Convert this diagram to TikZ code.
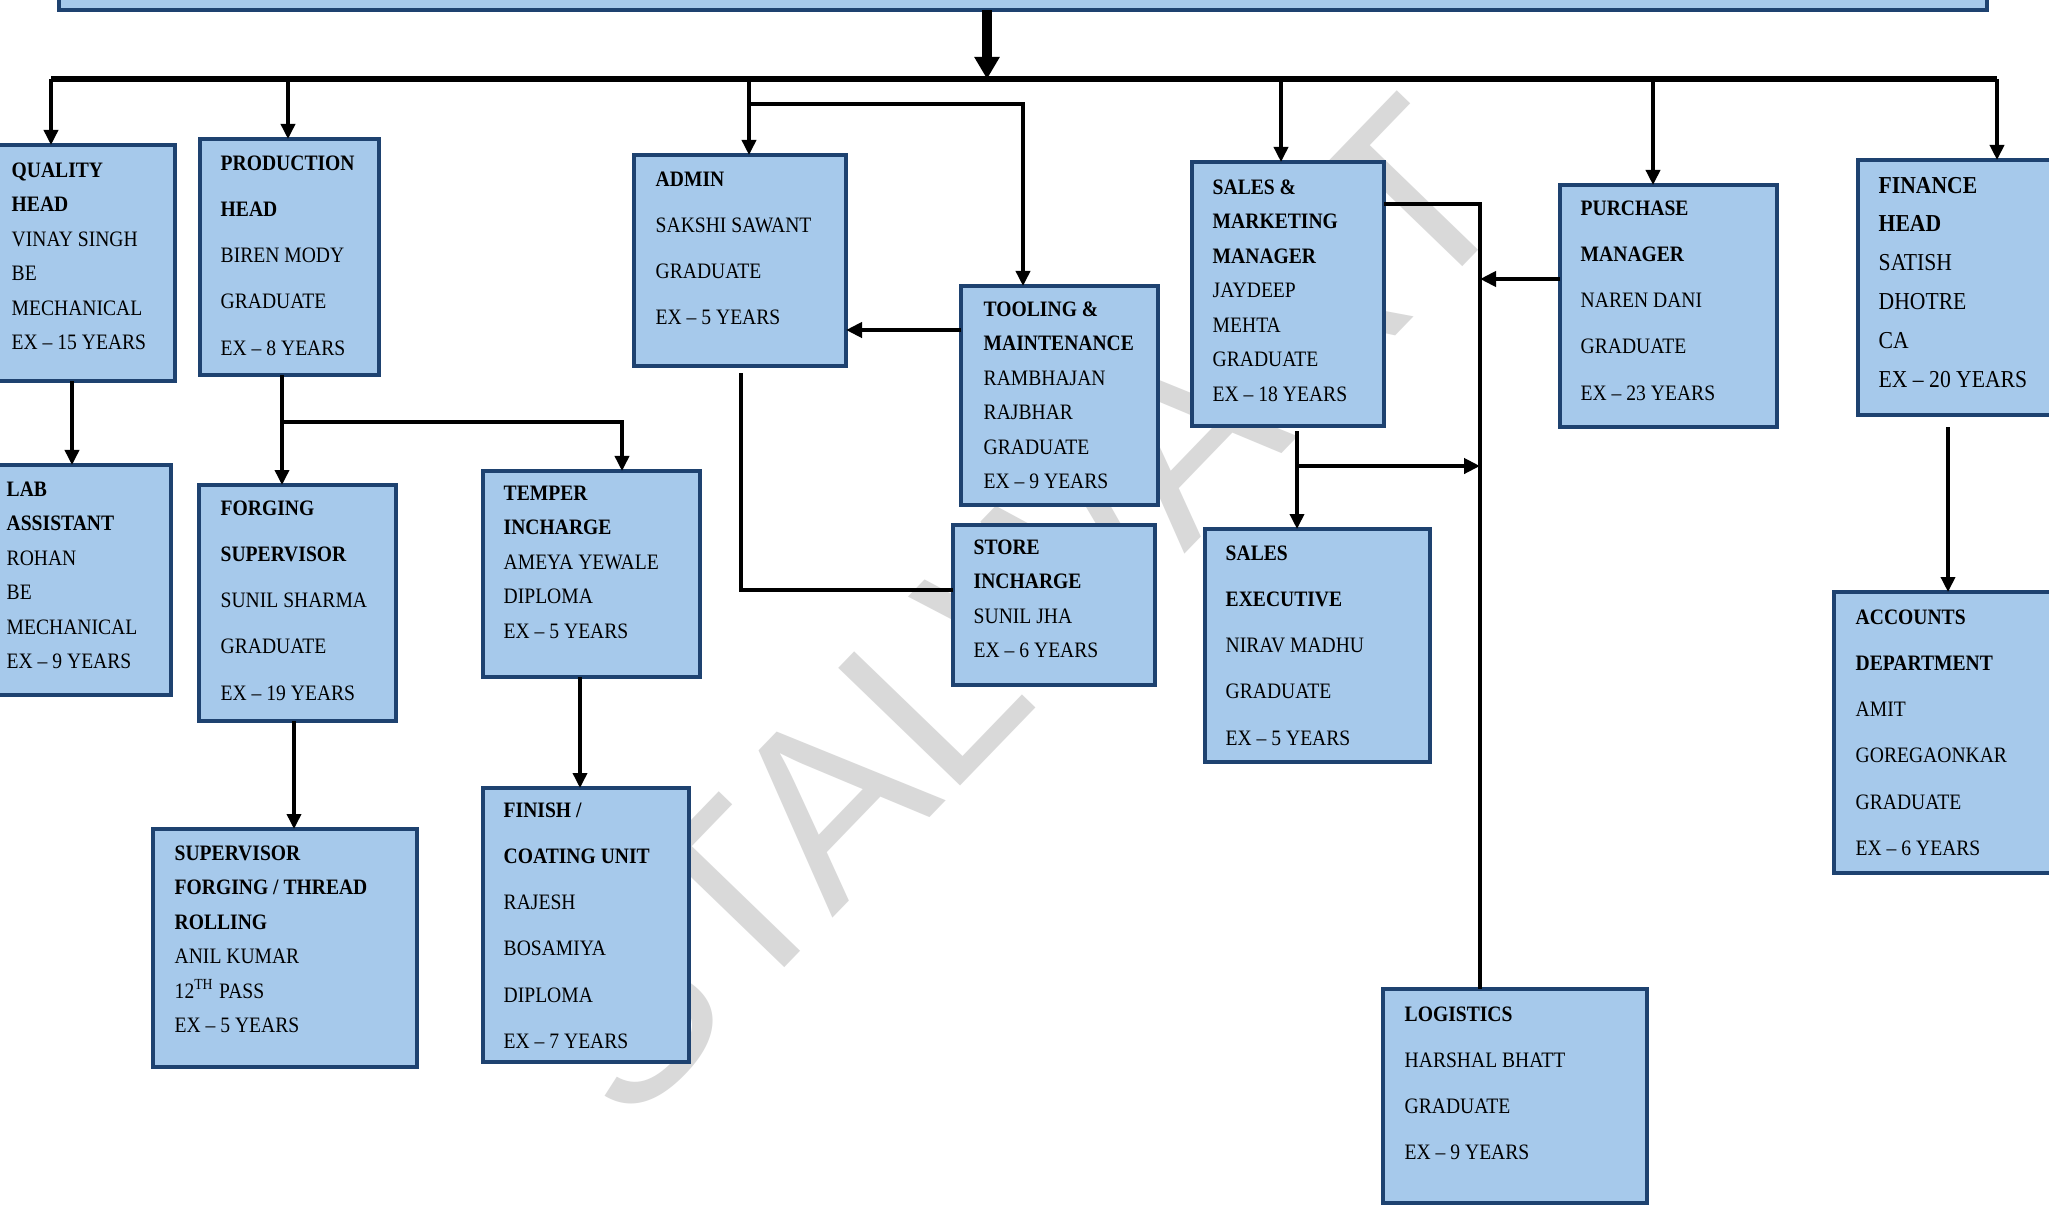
\documentclass[tikz,border=0pt]{standalone}
\usepackage{fontspec}
\setmainfont{Liberation Serif}[FakeStretch=0.89]
\newfontfamily\wmfont{Liberation Sans}
\usetikzlibrary{arrows.meta,calc}
\definecolor{boxfill}{RGB}{166,201,235}
\definecolor{boxline}{RGB}{30,66,112}
\definecolor{wmgray}{RGB}{217,217,217}
\tikzset{
  box/.style 2 args={draw=boxline, fill=boxfill, line width=1pt, minimum width=#1*0.01cm, minimum height=#2*0.01cm, anchor=north west, inner sep=0pt, outer sep=0pt},
  txtA/.style={anchor=base west, inner sep=0pt, font=\fontsize{6.26pt}{9.82pt}\selectfont},
  txtB/.style={anchor=base west, inner sep=0pt, font=\fontsize{6.26pt}{13.17pt}\selectfont},
  txtF/.style={anchor=base west, inner sep=0pt, font=\fontsize{6.91pt}{11.04pt}\selectfont},
  conn/.style={line width=1pt, draw=black},
  arr/.style={conn, -{Triangle[length=0.15cm,width=0.14cm]}},
  tharr/.style={line width=1.3pt, draw=black, -{Triangle[length=0.16cm,width=0.15cm]}},
  bus/.style={line width=1.5pt, draw=black},
  mainarr/.style={line width=2.8pt, draw=black, -{Triangle[length=0.22cm,width=0.24cm]}},
  wm/.style={text=wmgray, font=\wmfont\fontsize{70pt}{72pt}\selectfont, anchor=base, rotate=46, inner sep=0pt}
}
\newcommand{\lines}[1]{\begin{tabular}[t]{@{}l@{}}#1\end{tabular}}
\begin{document}
\begin{tikzpicture}[x=0.01cm, y=-0.01cm]
\useasboundingbox (0,0) rectangle (2049,1209);
\clip (0,0) rectangle (2049,1209);
\fill[white] (0,0) rectangle (2049,1209);

% watermark
\node[wm] (wmk) at (1075,668) {STALWART};

% boxes
\node[box={1928}{110}] (top) at (59,-100) {};
\node[box={206}{236}] (q) at (-31,145) {};
\node[box={198}{230}] (lab) at (-27,465) {};
\node[box={179}{236}] (p) at (200,139) {};
\node[box={197}{236}] (fs) at (199,485) {};
\node[box={264}{238}] (sv) at (153,829) {};
\node[box={217}{206}] (te) at (483,471) {};
\node[box={206}{274}] (fi) at (483,788) {};
\node[box={212}{211}] (ad) at (634,155) {};
\node[box={197}{219}] (to) at (961,286) {};
\node[box={202}{160}] (st) at (953,525) {};
\node[box={192}{264}] (sm) at (1192,162) {};
\node[box={225}{233}] (sx) at (1205,529) {};
\node[box={217}{242}] (pu) at (1560,185) {};
\node[box={222}{255}] (fn) at (1858,160) {};
\node[box={246}{281}] (ac) at (1834,592) {};
\node[box={264}{214}] (lg) at (1383,989) {};

% texts
\node[txtA] (qt) at (11,177) {\lines{\textbf{QUALITY}\\\textbf{HEAD}\\VINAY SINGH\\BE\\MECHANICAL\\EX -- 15 YEARS}};
\node[txtA] (labt) at (6,496) {\lines{\textbf{LAB}\\\textbf{ASSISTANT}\\ROHAN\\BE\\MECHANICAL\\EX -- 9 YEARS}};
\node[txtB] (pt) at (220,170) {\lines{\textbf{PRODUCTION}\\\textbf{HEAD}\\BIREN MODY\\GRADUATE\\EX -- 8 YEARS}};
\node[txtB] (fst) at (220,515) {\lines{\textbf{FORGING}\\\textbf{SUPERVISOR}\\SUNIL SHARMA\\GRADUATE\\EX -- 19 YEARS}};
\node[txtA] (svt) at (174,860) {\lines{\textbf{SUPERVISOR}\\\textbf{FORGING / THREAD}\\\textbf{ROLLING}\\ANIL KUMAR\\12\textsuperscript{TH} PASS\\EX -- 5 YEARS}};
\node[txtA] (tet) at (503,500) {\lines{\textbf{TEMPER}\\\textbf{INCHARGE}\\AMEYA YEWALE\\DIPLOMA\\EX -- 5 YEARS}};
\node[txtB] (fit) at (503,817) {\lines{\textbf{FINISH /}\\\textbf{COATING UNIT}\\RAJESH\\BOSAMIYA\\DIPLOMA\\EX -- 7 YEARS}};
\node[txtB] (adt) at (655,186) {\lines{\textbf{ADMIN}\\SAKSHI SAWANT\\GRADUATE\\EX -- 5 YEARS}};
\node[txtA] (tot) at (983,316) {\lines{\textbf{TOOLING \&}\\\textbf{MAINTENANCE}\\RAMBHAJAN\\RAJBHAR\\GRADUATE\\EX -- 9 YEARS}};
\node[txtA] (stt) at (973,554) {\lines{\textbf{STORE}\\\textbf{INCHARGE}\\SUNIL JHA\\EX -- 6 YEARS}};
\node[txtA] (smt) at (1212,194) {\lines{\textbf{SALES \&}\\\textbf{MARKETING}\\\textbf{MANAGER}\\JAYDEEP\\MEHTA\\GRADUATE\\EX -- 18 YEARS}};
\node[txtB] (sxt) at (1225,560) {\lines{\textbf{SALES}\\\textbf{EXECUTIVE}\\NIRAV MADHU\\GRADUATE\\EX -- 5 YEARS}};
\node[txtB] (put) at (1580,215) {\lines{\textbf{PURCHASE}\\\textbf{MANAGER}\\NAREN DANI\\GRADUATE\\EX -- 23 YEARS}};
\node[txtF] (fnt) at (1878,193) {\lines{\textbf{FINANCE}\\\textbf{HEAD}\\SATISH\\DHOTRE\\CA\\EX -- 20 YEARS}};
\node[txtB] (act) at (1855,624) {\lines{\textbf{ACCOUNTS}\\\textbf{DEPARTMENT}\\AMIT\\GOREGAONKAR\\GRADUATE\\EX -- 6 YEARS}};
\node[txtB] (lgt) at (1404,1021) {\lines{\textbf{LOGISTICS}\\HARSHAL BHATT\\GRADUATE\\EX -- 9 YEARS}};

% bus and drops
\coordinate (busL) at (51,79);
\coordinate (busR) at (1997,79);
\coordinate (bM) at (987,79);
\coordinate (bP) at (288,79);
\coordinate (bA) at (749,79);
\coordinate (bS) at (1281,79);
\coordinate (bU) at (1653,79);
\draw[mainarr] (bM |- top.south) -- (bM);
\draw[bus] (busL) -- (busR);
\draw[arr] (busL) -- (busL |- q.north);
\draw[arr] (bP) -- (bP |- p.north);
\draw[arr] (bA) -- (bA |- ad.north);
\draw[arr] (bS) -- (bS |- sm.north);
\draw[arr] (bU) -- (bU |- pu.north);
\draw[arr] (busR) -- (busR |- fn.north);

% quality -> lab
\draw[arr] (q.south) -- (q.south |- lab.north);

% production -> forging, temper
\coordinate (pj) at (282,422);
\coordinate (tj) at (622,422);
\draw[conn] (p.south -| pj) -- (pj);
\draw[arr] (pj) -- (pj |- fs.north);
\draw[arr] (pj) -- (tj) -- (tj |- te.north);

% forging -> supervisor
\coordinate (fsv) at (294,721);
\draw[arr] (fs.south -| fsv) -- (fsv |- sv.north);

% temper -> finish
\coordinate (tf) at (580,677);
\draw[arr] (te.south -| tf) -- (tf |- fi.north);

% admin branch -> tooling
\coordinate (ta) at (749,104);
\coordinate (tt) at (1023,104);
\draw[arr] (ta) -- (tt) -- (tt |- to.north);

% tooling -> admin
\coordinate (tw) at (961,330);
\draw[tharr] (to.west |- tw) -- (ad.east |- tw);

% store -> admin
\coordinate (sa) at (741,373);
\coordinate (sj) at (741,590);
\draw[conn] (st.west |- sj) -- (sj) -- (sa);

% sales manager -> logistics line
\coordinate (vl) at (1480,204);
\draw[conn] (sm.east |- vl) -- (vl) -- (vl |- lg.north);

% purchase -> line
\coordinate (pv) at (1480,279);
\draw[tharr] (pu.west |- pv) -- (pv);

% sales manager -> executive
\coordinate (se1) at (1297,431);
\coordinate (se2) at (1297,466);
\draw[conn] (se1) -- (se2);
\draw[arr] (se2) -- (se2 |- sx.north);
\draw[tharr] (se2) -- (vl |- se2);

% finance -> accounts
\coordinate (fa) at (1948,427);
\draw[arr] (fa) -- (fa |- ac.north);
\end{tikzpicture}
\end{document}
